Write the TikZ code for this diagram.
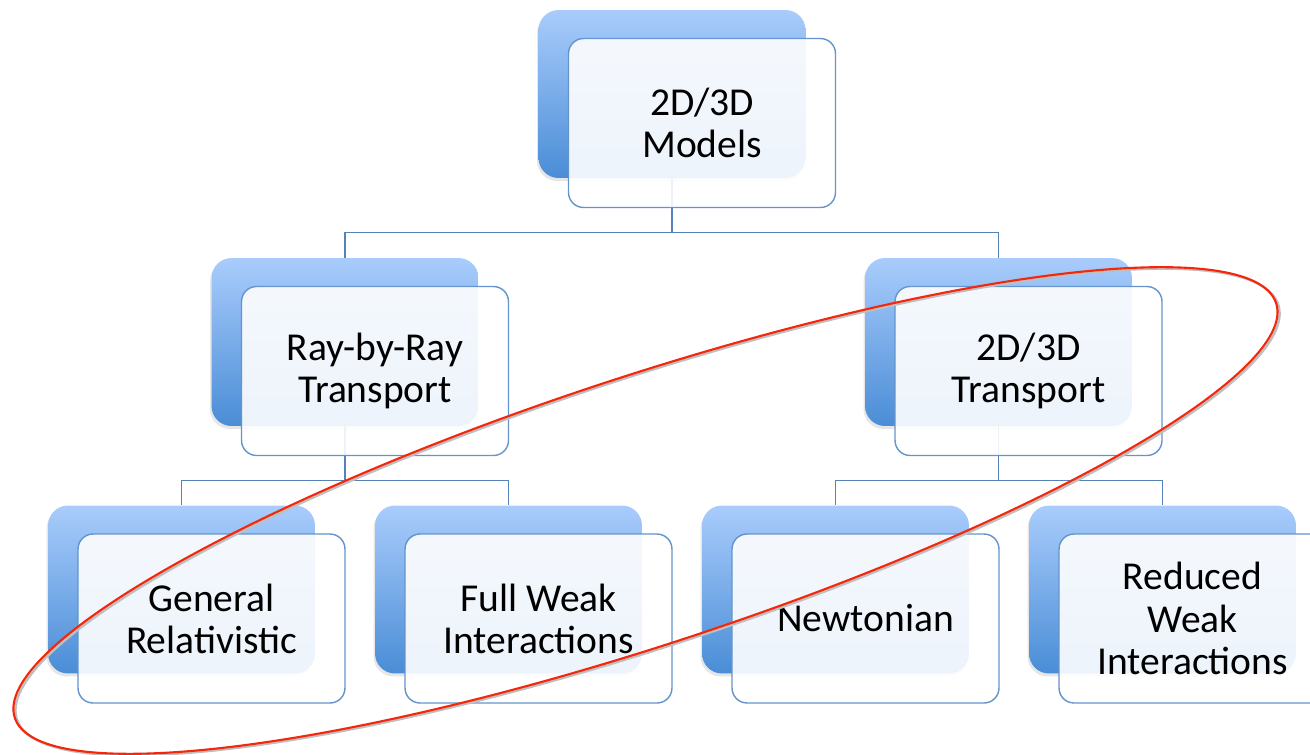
\documentclass[tikz,border=0pt]{standalone}
\usepackage{fontspec}
\setmainfont{Carlito}
\usetikzlibrary{calc,shadows}

\definecolor{boxtop}{RGB}{169,204,252}
\definecolor{boxbot}{RGB}{74,141,214}
\definecolor{boxline}{RGB}{100,148,203}
\definecolor{linkline}{RGB}{86,130,186}
\definecolor{ringred}{RGB}{245,38,10}

\tikzset{
  backbox/.style={rounded corners=0.4cm, minimum width=5.34cm, minimum height=3.36cm,
    top color=boxtop, bottom color=boxbot,
    drop shadow={shadow xshift=-0.03cm, shadow yshift=-0.06cm, opacity=0.2}},
  frontbox/.style={draw=boxline, line width=0.8pt, rounded corners=0.3cm,
    fill=white, fill opacity=0.9, text opacity=1,
    minimum width=5.34cm, minimum height=3.38cm, align=center,
    font=\fontsize{22.5}{24}\selectfont},
  link/.style={draw=linkline, line width=0.8pt},
  ring/.style={draw=ringred, line width=1.2pt},
}

\begin{document}
\begin{tikzpicture}[x=0.02cm, y=-0.02cm]
  \clip (0,0) rectangle (1310,754);
  % coloured back plates
  \node[backbox] (m)  at (672,94) {};
  \node[backbox] (rr) at (345,342) {};
  \node[backbox] (tr) at (998.5,342) {};
  \node[backbox] (gr) at (181.5,589.5) {};
  \node[backbox] (fw) at (508.5,589.5) {};
  \node[backbox] (nw) at (835.5,589.5) {};
  \node[backbox] (rw) at (1162.5,589.5) {};
  % tree links
  \draw[link] (m.south) -- ++(0,54) -| (rr.north);
  \draw[link] (m.south) -- ++(0,54) -| (tr.north);
  \draw[link] (rr.south) -- ++(0,54) -| (gr.north);
  \draw[link] (rr.south) -- ++(0,54) -| (fw.north);
  \draw[link] (tr.south) -- ++(0,54) -| (nw.north);
  \draw[link] (tr.south) -- ++(0,54) -| (rw.north);
  % text cards
  \node[frontbox] (mt)  at ($(m)+(30,29)$)  {2D/3D\\Models};
  \node[frontbox] (rrt) at ($(rr)+(30,29)$) {Ray-by-Ray\\Transport};
  \node[frontbox] (trt) at ($(tr)+(30,29)$) {2D/3D\\Transport};
  \node[frontbox] (grt) at ($(gr)+(30,29)$) {General\\Relativistic};
  \node[frontbox] (fwt) at ($(fw)+(30,29)$) {Full Weak\\Interactions};
  \node[frontbox] (nwt) at ($(nw)+(30,29)$) {Newtonian};
  \node[frontbox] (rwt) at ($(rw)+(30,29)$) {Reduced\\Weak\\Interactions};
  % red ring
  \coordinate (ringc) at (645.5,510.5);
  \draw[black!25, line width=1.4pt, rotate around={18.2:($(ringc)+(1.5,2)$)}]
    ($(ringc)+(1.5,2)$) ellipse [x radius=13.28cm, y radius=2.68cm];
  \draw[ring, rotate around={18.2:(ringc)}] (ringc) ellipse [x radius=13.28cm, y radius=2.68cm];
\end{tikzpicture}
\end{document}
